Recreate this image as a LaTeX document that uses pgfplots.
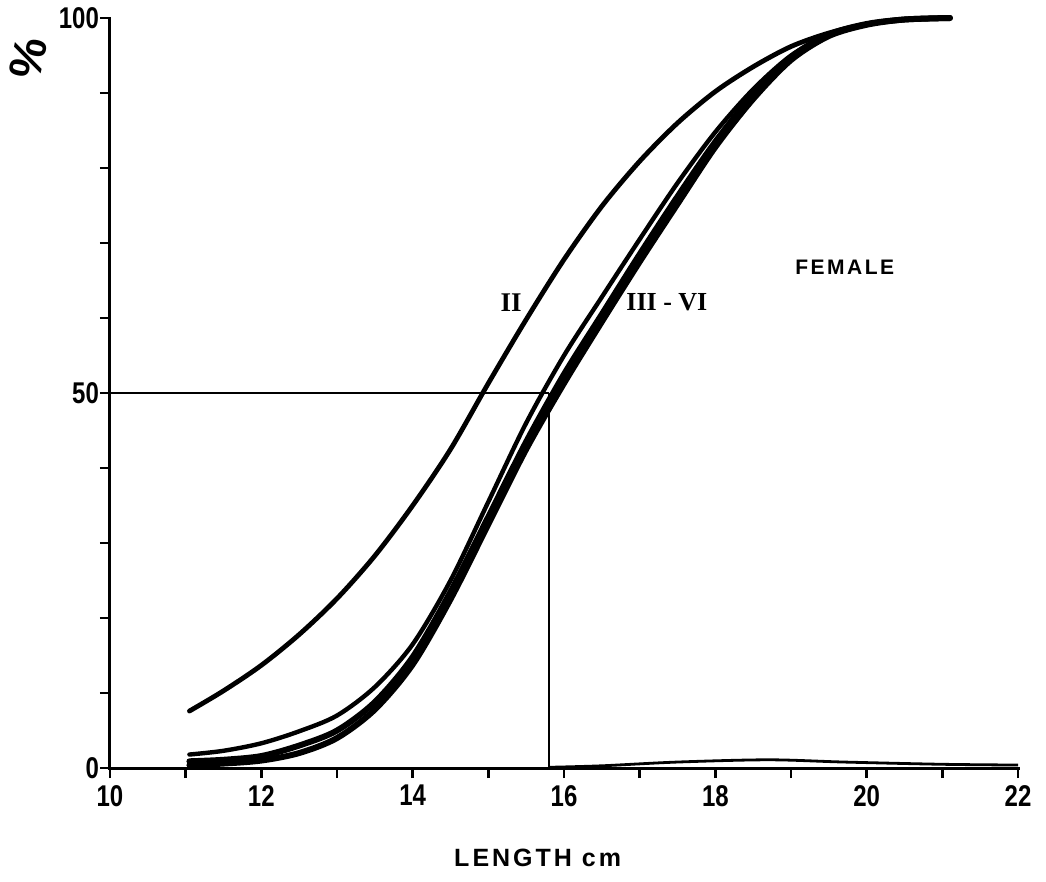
\documentclass[border=0pt]{standalone}
\usepackage{fontspec}
\setmainfont{Liberation Sans}
\newfontfamily\tickfont[FakeStretch=0.8]{Liberation Sans}
\newfontfamily\romfont{Liberation Serif}
\newfontfamily\spacedfont[LetterSpace=12]{Liberation Sans}
\usepackage{pgfplots}
\pgfplotsset{compat=1.18}

\pgfplotstableread{
x y
11.05 7.6
11.5 10.3
12.0 13.7
12.5 17.8
13.0 22.6
13.5 28.3
14.0 35.0
14.5 42.5
15.0 51.3
15.5 59.8
16.0 67.8
16.5 74.9
17.0 80.9
17.5 86.0
18.0 90.2
18.5 93.5
19.0 96.2
19.5 98.0
20.0 99.2
20.5 99.8
21.1 100.0
}\curveII

\pgfplotstableread{
x y
11.05 1.8
11.5 2.3
12.0 3.3
12.5 4.9
13.0 7.0
13.5 10.8
14.0 16.5
14.5 25.0
15.0 35.5
15.5 46.0
16.0 55.0
16.5 62.8
17.0 70.5
17.5 78.0
18.0 84.8
18.5 90.5
19.0 95.0
19.5 97.8
20.0 99.2
20.5 99.8
21.1 100.0
}\curveA

\pgfplotstableread{
x y
11.05 0.9
11.5 1.1
12.0 1.6
12.5 3.0
13.0 5.0
13.5 8.8
14.0 14.8
14.5 23.5
15.0 33.5
15.5 43.5
16.0 52.5
16.5 60.5
17.0 68.5
17.5 76.2
18.0 83.5
18.5 89.8
19.0 94.8
19.5 97.8
20.0 99.2
20.5 99.8
21.1 100.0
}\curveB

\pgfplotstableread{
x y
11.05 0.4
11.5 0.6
12.0 1.0
12.5 2.0
13.0 4.0
13.5 7.8
14.0 13.8
14.5 22.5
15.0 32.5
15.5 42.5
16.0 51.3
16.5 59.5
17.0 67.5
17.5 75.2
18.0 82.8
18.5 89.2
19.0 94.4
19.5 97.6
20.0 99.1
20.5 99.8
21.1 100.0
}\curveC

\begin{document}
\begin{tikzpicture}
\begin{axis}[
  scale only axis, width=454pt, height=375pt,
  xmin=10, xmax=22, ymin=0, ymax=100,
  axis x line*=bottom, axis y line*=left,
  axis line style={line width=1.5pt, line cap=rect},
  xtick={10,12,...,22}, minor xtick={11,13,...,21},
  ytick={0,50,100}, minor ytick={10,20,30,40,60,70,80,90},
  tick align=outside, major tick length=5pt, minor tick length=5pt,
  tick style={line width=1.2pt, black},
  tick label style={font=\tickfont\bfseries\fontsize{15}{15}\selectfont},
  yticklabel style={xshift=3pt},
  /pgf/number format/assume math mode=true,
  xlabel={LENGTH cm},
  xlabel style={font=\spacedfont\bfseries\fontsize{12.5}{13}\selectfont, at={(rel axis cs:0.471,-0.12)}, anchor=center},
  ylabel={\%},
  ylabel style={font=\bfseries\fontsize{23}{24}\selectfont, at={(rel axis cs:-0.0903,0.9467)}, anchor=center, rotate=-12},
  clip=false,
]
\path (rel axis cs:-0.1211,-0.1507) rectangle (rel axis cs:1.0308,1.024);
% reference lines
\addplot[black, line width=1.2pt] coordinates {(10,50) (15.8,50)};
\addplot[black, line width=1.2pt] coordinates {(15.8,50) (15.8,0)};
% slight bump of the hand-drawn baseline
\addplot[black, line width=1.4pt, smooth] coordinates {(15.8,0.1) (16.5,0.3) (17.5,0.8) (18.7,1.1) (19.7,0.8) (21,0.5) (22,0.4)};
% curves
\addplot[black, line width=2.4pt, smooth, line cap=round] table {\curveII};
\addplot[black, line width=2.2pt, smooth, line cap=round] table {\curveA};
\addplot[black, line width=3pt, smooth, line cap=round] table {\curveB};
\addplot[black, line width=3pt, smooth, line cap=round] table {\curveC};
% labels
\node[font=\romfont\bfseries\fontsize{13.5}{14}\selectfont] at (axis cs:15.30,62.1) {II};
\node[font=\romfont\bfseries\fontsize{13}{14}\selectfont] at (axis cs:17.36,62.1) {III - VI};
\node[font=\spacedfont\bfseries\fontsize{10.5}{11}\selectfont] at (axis cs:19.71,66.8) {FEMALE};
\end{axis}
\end{tikzpicture}
\end{document}
